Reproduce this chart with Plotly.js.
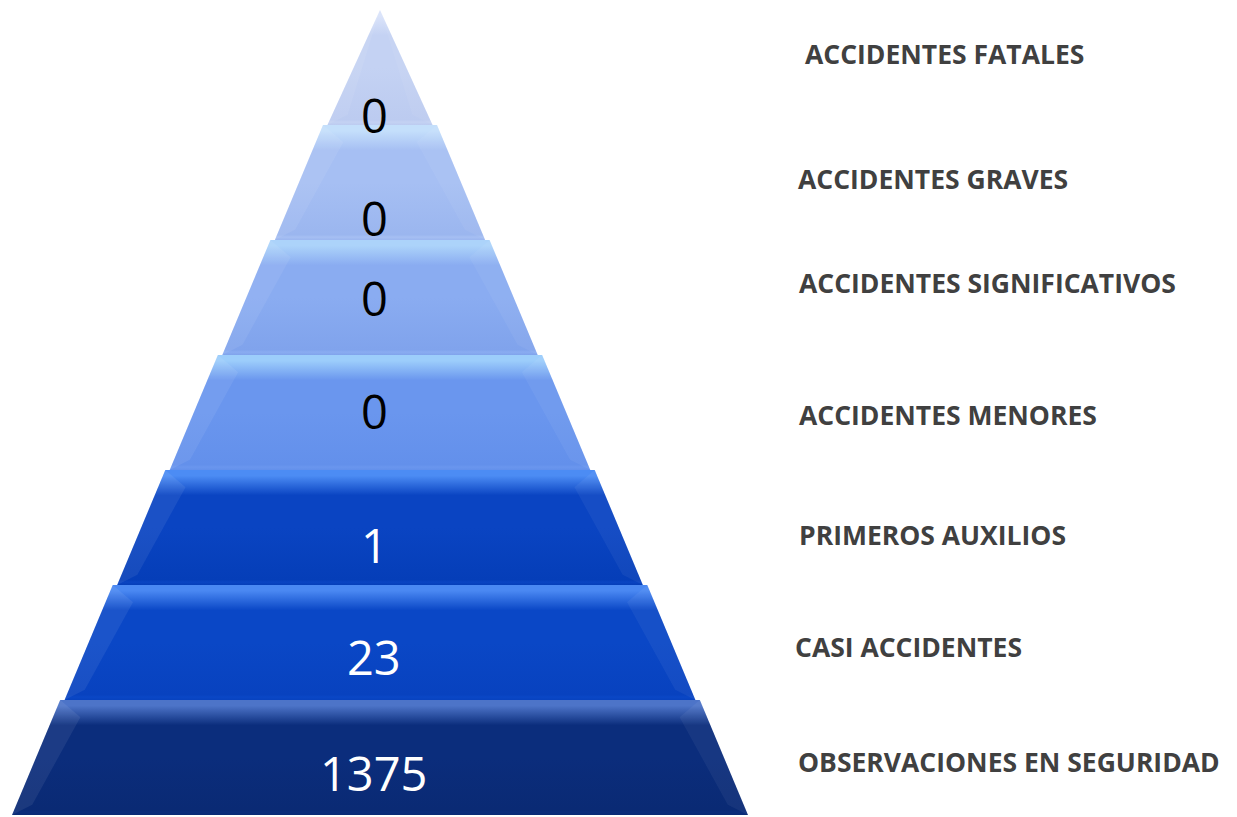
<!DOCTYPE html>
<html>
<head>
<meta charset="utf-8">
<script src="https://cdn.plot.ly/plotly-3.0.1.min.js"></script>
<style>html,body{margin:0;padding:0;background:#fff;} #chart{width:1237px;height:817px;}</style>
</head>
<body>
<div id="chart"></div>
<script>
// ---- data (top of pyramid first) ----
const categories = ["ACCIDENTES FATALES","ACCIDENTES GRAVES","ACCIDENTES SIGNIFICATIVOS","ACCIDENTES MENORES","PRIMEROS AUXILIOS","CASI ACCIDENTES","OBSERVACIONES EN SEGURIDAD"];
const values = [0, 0, 0, 0, 1, 23, 1375];

// ---- styles ----
const faceColors = ["#c4d2f3","#a6bff3","#8aacf1","#6a96ee","#0a44c2","#0a47c6","#0b2d7c"];
const darkColors = ["#bccbf0","#9bb6ef","#80a3ec","#6390eb","#053eb8","#0842bf","#0a2a74"];
const highlightColors = ["#dbe4fa","#c4dffb","#acd3fa","#9ccdfb","#4c8cf4","#4a88f2","#4d74c8"];
const textColors = ["#000","#000","#000","#000","#fff","#fff","#fff"];
const numberShift = [-0.41,-0.31,0.0,0.01,-0.15,-0.13,-0.135];
const labelShift = [0.117,0.03,0.126,-0.022,-0.065,-0.039,-0.039];
const labelNudge = [0.019,0,0.003,0.003,0.003,-0.008,0];

const n = categories.length;
const halfW = y => (n - y) / n;
const step = 0.012, bw = 0.055, bh = 0.15;

const traces = [];
const annotations = [];
categories.forEach((cat, i) => {
  const yb = n - 1 - i, yt = n - i;
  const top = (i === 0) ? 0 : halfW(yt) + step;
  const bot = halfW(yb);
  traces.push({
    type: 'scatter', mode: 'lines', hoverinfo: 'skip', showlegend: false,
    x: [-bot, bot, top, -top, -bot], y: [yb, yb, yt, yt, yb],
    fill: 'toself', line: {width: 0, color: faceColors[i]},
    fillgradient: {type: 'vertical', start: yb, stop: yt,
      colorscale: [[0, darkColors[i]], [0.025, faceColors[i]], [0.045, darkColors[i]], [0.5, faceColors[i]], [0.78, faceColors[i]], [0.95, highlightColors[i]], [1, highlightColors[i]]]}
  });
  // side bevels
  const itop = (i === 0) ? 0 : top - bw;
  const ytIn = (i === 0) ? yt : yt - bh;
  traces.push({
    type: 'scatter', mode: 'lines', hoverinfo: 'skip', showlegend: false,
    x: [-top, -bot, -bot + bw, -itop, -top], y: [yt, yb, yb + bh * 0.6, ytIn, yt],
    fill: 'toself', line: {width: 0}, fillcolor: 'rgba(255,255,255,0.07)'
  });
  traces.push({
    type: 'scatter', mode: 'lines', hoverinfo: 'skip', showlegend: false,
    x: [top, bot, bot - bw, itop, top], y: [yt, yb, yb + bh * 0.6, ytIn, yt],
    fill: 'toself', line: {width: 0}, fillcolor: 'rgba(255,255,255,0.05)'
  });
  annotations.push({
    x: -0.015, y: yb + 0.5 + numberShift[i], xref: 'x', yref: 'y', showarrow: false,
    text: String(values[i]), xanchor: 'center', yanchor: 'middle',
    font: {family: 'Open Sans', size: 47, color: textColors[i]}
  });
  annotations.push({
    x: 1.1305 + labelNudge[i], y: yb + 0.5 + labelShift[i], xref: 'x', yref: 'y', showarrow: false,
    text: cat, xanchor: 'left', yanchor: 'middle',
    font: {family: 'Open Sans', size: 26.5, color: '#404040', weight: 700}
  });
});

const layout = {
  width: 1237, height: 817,
  margin: {l: 0, r: 0, t: 0, b: 0},
  paper_bgcolor: '#fff', plot_bgcolor: '#fff',
  xaxis: {range: [-380/368, (1237-380)/368], visible: false, fixedrange: true},
  yaxis: {range: [-2/115, 7 + 10/115], visible: false, fixedrange: true},
  annotations: annotations,
  showlegend: false
};
Plotly.newPlot('chart', traces, layout, {staticPlot: true, displayModeBar: false});
</script>
</body>
</html>
